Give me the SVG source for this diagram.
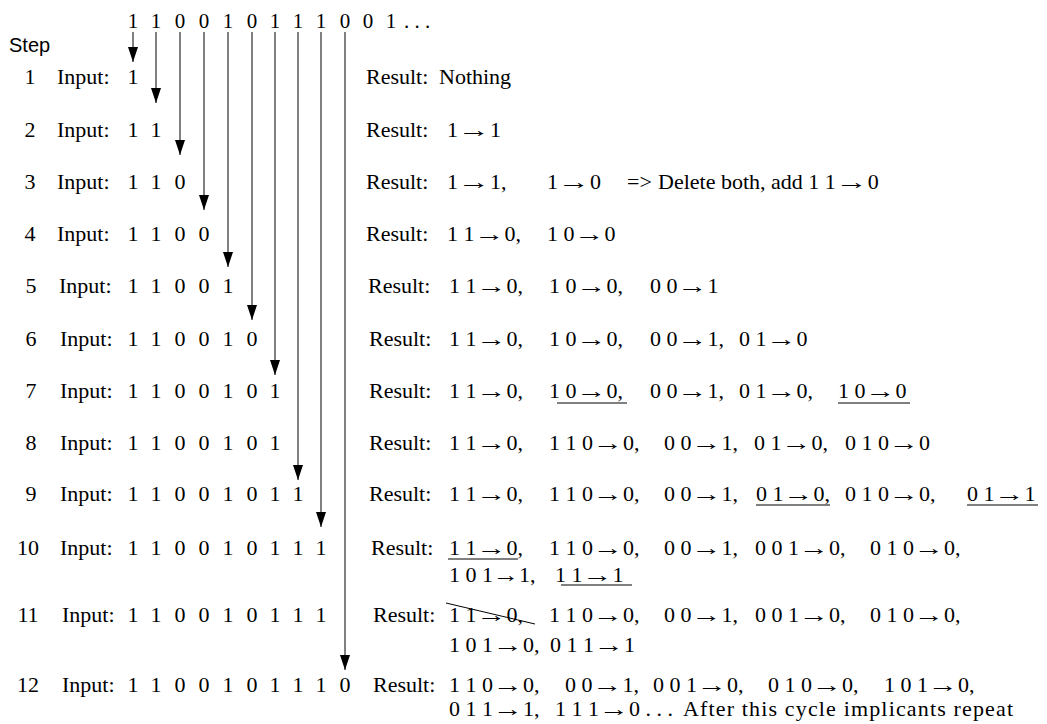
<svg xmlns="http://www.w3.org/2000/svg" width="1047" height="724" viewBox="0 0 1047 724">
<defs>
<marker id="ah" markerUnits="userSpaceOnUse" markerWidth="16" markerHeight="11" refX="15" refY="5" orient="auto">
<path d="M0,0 L15,5 L0,10 z" fill="#000"/>
</marker>
<style>
text{font-family:"Liberation Serif","Times New Roman",serif;font-size:22px;fill:#000}
.seq{font-size:21px;text-anchor:middle}
.d,.num{text-anchor:middle}
.step{font-family:"Liberation Sans",Arial,sans-serif;font-size:20px}
.conn line{stroke:#000;stroke-width:1;marker-end:url(#ah)}
.ul{stroke:#000;stroke-width:1}
</style>
</defs>
<rect width="1047" height="724" fill="#fff"/>
<g id="sequence">
<text class="seq" x="133" y="28">1</text><text class="seq" x="156" y="28">1</text><text class="seq" x="180" y="28">0</text><text class="seq" x="204" y="28">0</text><text class="seq" x="228" y="28">1</text><text class="seq" x="252" y="28">0</text><text class="seq" x="275" y="28">1</text><text class="seq" x="298" y="28">1</text><text class="seq" x="321" y="28">1</text><text class="seq" x="345" y="28">0</text><text class="seq" x="368" y="28">0</text><text class="seq" x="391" y="28">1</text>
<text x="404" y="28" style="font-size:21px">. . .</text>
</g>
<text id="steplabel" class="step" x="9" y="52">Step</text>
<g class="conn" id="connectors">
<line x1="133" y1="32" x2="133" y2="62"/>
<line x1="156" y1="32" x2="156" y2="103"/>
<line x1="180" y1="32" x2="180" y2="155"/>
<line x1="204" y1="32" x2="204" y2="210"/>
<line x1="228" y1="32" x2="228" y2="267"/>
<line x1="252" y1="32" x2="252" y2="320"/>
<line x1="275" y1="32" x2="275" y2="375"/>
<line x1="298" y1="32" x2="298" y2="480"/>
<line x1="321" y1="32" x2="321" y2="527"/>
<line x1="345" y1="32" x2="345" y2="670"/>
</g>
<g id="row1">
<text class="num" x="30" y="84">1</text><text x="57" y="84">Input:</text>
<text class="d" x="133" y="84">1</text>
<text x="366" y="84">Result:</text><text x="439" y="84">Nothing</text>
</g>
<g id="row2">
<text class="num" x="30" y="137">2</text><text x="57" y="137">Input:</text>
<text class="d" x="133" y="137">1</text><text class="d" x="156" y="137">1</text>
<text x="366" y="137">Result:</text><text x="447" y="137">1<tspan textLength="32" lengthAdjust="spacingAndGlyphs">→</tspan>1</text>
</g>
<g id="row3">
<text class="num" x="30" y="189">3</text><text x="57" y="189">Input:</text>
<text class="d" x="133" y="189">1</text><text class="d" x="156" y="189">1</text><text class="d" x="180" y="189">0</text>
<text x="366" y="189">Result:</text><text x="447" y="189">1<tspan textLength="32" lengthAdjust="spacingAndGlyphs">→</tspan>1,</text><text x="547" y="189">1<tspan textLength="32" lengthAdjust="spacingAndGlyphs">→</tspan>0</text><text x="627" y="189">=&gt;</text><text x="658" y="189">Delete both, add 1 1<tspan textLength="32" lengthAdjust="spacingAndGlyphs">→</tspan>0</text>
</g>
<g id="row4">
<text class="num" x="30" y="241">4</text><text x="57" y="241">Input:</text>
<text class="d" x="133" y="241">1</text><text class="d" x="156" y="241">1</text><text class="d" x="180" y="241">0</text><text class="d" x="204" y="241">0</text>
<text x="366" y="241">Result:</text><text x="447" y="241">1 1<tspan textLength="30" lengthAdjust="spacingAndGlyphs">→</tspan>0,</text><text x="547" y="241">1 0<tspan textLength="30" lengthAdjust="spacingAndGlyphs">→</tspan>0</text>
</g>
<g id="row5">
<text class="num" x="31" y="293">5</text><text x="59" y="293">Input:</text>
<text class="d" x="133" y="293">1</text><text class="d" x="156" y="293">1</text><text class="d" x="180" y="293">0</text><text class="d" x="204" y="293">0</text><text class="d" x="228" y="293">1</text>
<text x="368" y="293">Result:</text><text x="449" y="293">1 1<tspan textLength="30" lengthAdjust="spacingAndGlyphs">→</tspan>0,</text><text x="549" y="293">1 0<tspan textLength="30" lengthAdjust="spacingAndGlyphs">→</tspan>0,</text><text x="650" y="293">0 0<tspan textLength="30" lengthAdjust="spacingAndGlyphs">→</tspan>1</text>
</g>
<g id="row6">
<text class="num" x="31" y="346">6</text><text x="60" y="346">Input:</text>
<text class="d" x="133" y="346">1</text><text class="d" x="156" y="346">1</text><text class="d" x="180" y="346">0</text><text class="d" x="204" y="346">0</text><text class="d" x="228" y="346">1</text><text class="d" x="252" y="346">0</text>
<text x="369" y="346">Result:</text><text x="449" y="346">1 1<tspan textLength="30" lengthAdjust="spacingAndGlyphs">→</tspan>0,</text><text x="549" y="346">1 0<tspan textLength="30" lengthAdjust="spacingAndGlyphs">→</tspan>0,</text><text x="650" y="346">0 0<tspan textLength="30" lengthAdjust="spacingAndGlyphs">→</tspan>1,</text><text x="739" y="346">0 1<tspan textLength="30" lengthAdjust="spacingAndGlyphs">→</tspan>0</text>
</g>
<g id="row7">
<text class="num" x="31" y="398">7</text><text x="60" y="398">Input:</text>
<text class="d" x="133" y="398">1</text><text class="d" x="156" y="398">1</text><text class="d" x="180" y="398">0</text><text class="d" x="204" y="398">0</text><text class="d" x="228" y="398">1</text><text class="d" x="252" y="398">0</text><text class="d" x="275" y="398">1</text>
<text x="369" y="398">Result:</text><text x="449" y="398">1 1<tspan textLength="30" lengthAdjust="spacingAndGlyphs">→</tspan>0,</text><text x="549" y="398">1 0<tspan textLength="30" lengthAdjust="spacingAndGlyphs">→</tspan>0,</text><text x="650" y="398">0 0<tspan textLength="30" lengthAdjust="spacingAndGlyphs">→</tspan>1,</text><text x="739" y="398">0 1<tspan textLength="30" lengthAdjust="spacingAndGlyphs">→</tspan>0,</text><text x="838" y="398">1 0<tspan textLength="30" lengthAdjust="spacingAndGlyphs">→</tspan>0</text>
<line class="ul" x1="557" y1="403" x2="627" y2="403"/>
<line class="ul" x1="838" y1="403" x2="910" y2="403"/>
</g>
<g id="row8">
<text class="num" x="31" y="450">8</text><text x="60" y="450">Input:</text>
<text class="d" x="133" y="450">1</text><text class="d" x="156" y="450">1</text><text class="d" x="180" y="450">0</text><text class="d" x="204" y="450">0</text><text class="d" x="228" y="450">1</text><text class="d" x="252" y="450">0</text><text class="d" x="275" y="450">1</text>
<text x="369" y="450">Result:</text><text x="449" y="450">1 1<tspan textLength="30" lengthAdjust="spacingAndGlyphs">→</tspan>0,</text><text x="549" y="450">1 1 0<tspan textLength="30" lengthAdjust="spacingAndGlyphs">→</tspan>0,</text><text x="664" y="450">0 0<tspan textLength="30" lengthAdjust="spacingAndGlyphs">→</tspan>1,</text><text x="754" y="450">0 1<tspan textLength="30" lengthAdjust="spacingAndGlyphs">→</tspan>0,</text><text x="845" y="450">0 1 0<tspan textLength="30" lengthAdjust="spacingAndGlyphs">→</tspan>0</text>
</g>
<g id="row9">
<text class="num" x="31" y="501">9</text><text x="60" y="501">Input:</text>
<text class="d" x="133" y="501">1</text><text class="d" x="156" y="501">1</text><text class="d" x="180" y="501">0</text><text class="d" x="204" y="501">0</text><text class="d" x="228" y="501">1</text><text class="d" x="252" y="501">0</text><text class="d" x="275" y="501">1</text><text class="d" x="298" y="501">1</text>
<text x="369" y="501">Result:</text><text x="449" y="501">1 1<tspan textLength="30" lengthAdjust="spacingAndGlyphs">→</tspan>0,</text><text x="549" y="501">1 1 0<tspan textLength="30" lengthAdjust="spacingAndGlyphs">→</tspan>0,</text><text x="664" y="501">0 0<tspan textLength="30" lengthAdjust="spacingAndGlyphs">→</tspan>1,</text><text x="756" y="501">0 1<tspan textLength="30" lengthAdjust="spacingAndGlyphs">→</tspan>0,</text><text x="845" y="501">0 1 0<tspan textLength="30" lengthAdjust="spacingAndGlyphs">→</tspan>0,</text><text x="967" y="501">0 1<tspan textLength="30" lengthAdjust="spacingAndGlyphs">→</tspan>1</text>
<line class="ul" x1="756" y1="505" x2="830" y2="505"/>
<line class="ul" x1="967" y1="505" x2="1038" y2="505"/>
</g>
<g id="row10">
<text class="num" x="28" y="555">10</text><text x="60" y="555">Input:</text>
<text class="d" x="133" y="555">1</text><text class="d" x="156" y="555">1</text><text class="d" x="180" y="555">0</text><text class="d" x="204" y="555">0</text><text class="d" x="228" y="555">1</text><text class="d" x="252" y="555">0</text><text class="d" x="275" y="555">1</text><text class="d" x="298" y="555">1</text><text class="d" x="321" y="555">1</text>
<text x="371" y="555">Result:</text><text x="449" y="555">1 1<tspan textLength="30" lengthAdjust="spacingAndGlyphs">→</tspan>0,</text><text x="549" y="555">1 1 0<tspan textLength="30" lengthAdjust="spacingAndGlyphs">→</tspan>0,</text><text x="664" y="555">0 0<tspan textLength="30" lengthAdjust="spacingAndGlyphs">→</tspan>1,</text><text x="755" y="555">0 0 1<tspan textLength="30" lengthAdjust="spacingAndGlyphs">→</tspan>0,</text><text x="870" y="555">0 1 0<tspan textLength="30" lengthAdjust="spacingAndGlyphs">→</tspan>0,</text>
<text x="449" y="582">1 0 1<tspan textLength="26" lengthAdjust="spacingAndGlyphs">→</tspan>1,</text><text x="555" y="582">1 1<tspan textLength="30" lengthAdjust="spacingAndGlyphs">→</tspan>1</text>
<line class="ul" x1="448" y1="559" x2="518" y2="559"/>
<line class="ul" x1="561" y1="585" x2="632" y2="585"/>
</g>
<g id="row11">
<text class="num" x="28" y="622">11</text><text x="62" y="622">Input:</text>
<text class="d" x="133" y="622">1</text><text class="d" x="156" y="622">1</text><text class="d" x="180" y="622">0</text><text class="d" x="204" y="622">0</text><text class="d" x="228" y="622">1</text><text class="d" x="252" y="622">0</text><text class="d" x="275" y="622">1</text><text class="d" x="298" y="622">1</text><text class="d" x="321" y="622">1</text>
<text x="373" y="622">Result:</text><text x="449" y="622">1 1<tspan textLength="30" lengthAdjust="spacingAndGlyphs">→</tspan>0,</text><text x="549" y="622">1 1 0<tspan textLength="30" lengthAdjust="spacingAndGlyphs">→</tspan>0,</text><text x="664" y="622">0 0<tspan textLength="30" lengthAdjust="spacingAndGlyphs">→</tspan>1,</text><text x="755" y="622">0 0 1<tspan textLength="30" lengthAdjust="spacingAndGlyphs">→</tspan>0,</text><text x="870" y="622">0 1 0<tspan textLength="30" lengthAdjust="spacingAndGlyphs">→</tspan>0,</text>
<text x="449" y="652">1 0 1<tspan textLength="30" lengthAdjust="spacingAndGlyphs">→</tspan>0,</text><text x="550" y="652">0 1 1<tspan textLength="30" lengthAdjust="spacingAndGlyphs">→</tspan>1</text>
<line class="ul" x1="446" y1="603" x2="535" y2="624"/>
</g>
<g id="row12">
<text class="num" x="28" y="692">12</text><text x="62" y="692">Input:</text>
<text class="d" x="133" y="692">1</text><text class="d" x="156" y="692">1</text><text class="d" x="180" y="692">0</text><text class="d" x="204" y="692">0</text><text class="d" x="228" y="692">1</text><text class="d" x="252" y="692">0</text><text class="d" x="275" y="692">1</text><text class="d" x="298" y="692">1</text><text class="d" x="321" y="692">1</text><text class="d" x="345" y="692">0</text>
<text x="373" y="692">Result:</text><text x="449" y="692">1 1 0<tspan textLength="30" lengthAdjust="spacingAndGlyphs">→</tspan>0,</text><text x="565" y="692">0 0<tspan textLength="30" lengthAdjust="spacingAndGlyphs">→</tspan>1,</text><text x="653" y="692">0 0 1<tspan textLength="30" lengthAdjust="spacingAndGlyphs">→</tspan>0,</text><text x="768" y="692">0 1 0<tspan textLength="30" lengthAdjust="spacingAndGlyphs">→</tspan>0,</text><text x="884" y="692">1 0 1<tspan textLength="30" lengthAdjust="spacingAndGlyphs">→</tspan>0,</text>
<text x="449" y="716">0 1 1<tspan textLength="30" lengthAdjust="spacingAndGlyphs">→</tspan>1,</text><text x="555" y="716">1 1 1<tspan textLength="30" lengthAdjust="spacingAndGlyphs">→</tspan>0 . . .</text><text x="683" y="716" textLength="330" lengthAdjust="spacing">After this cycle implicants repeat</text>
</g>
</svg>
